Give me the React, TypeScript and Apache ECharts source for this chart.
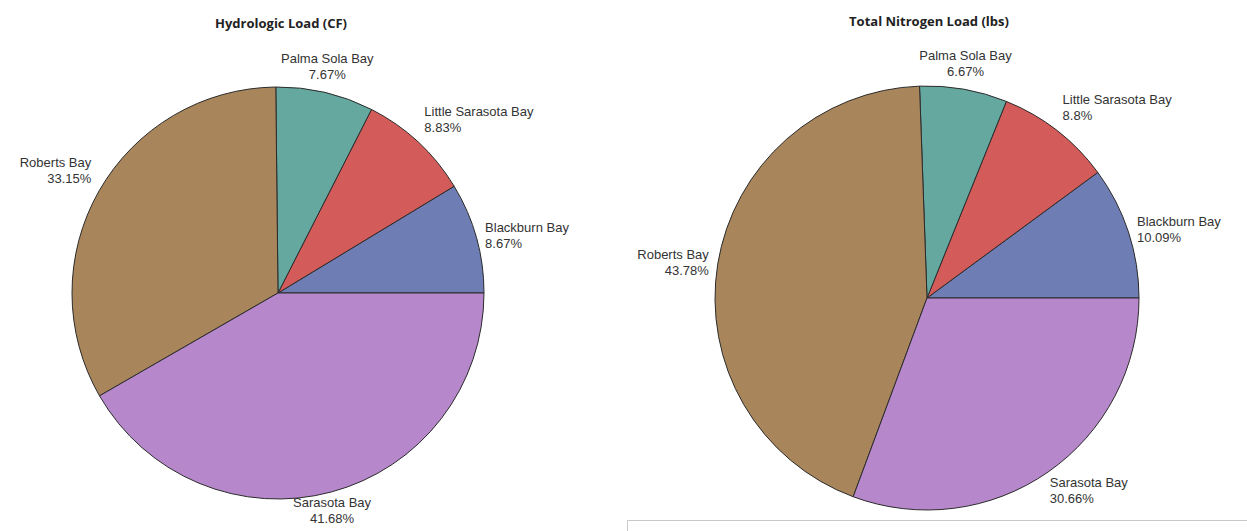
import React, { useEffect, useRef } from "react";
import * as echarts from "echarts";

const categories = ["Blackburn Bay", "Little Sarasota Bay", "Palma Sola Bay", "Roberts Bay", "Sarasota Bay"];
const hydrologicPct = [8.67, 8.83, 7.67, 33.15, 41.68];
const nitrogenPct = [10.09, 8.8, 6.67, 43.78, 30.66];
const titles = ["Hydrologic Load (CF)", "Total Nitrogen Load (lbs)"];
const colors = ["#6e7eb4", "#d35b5a", "#65a8a0", "#a8855a", "#b688cb"];

const pies = [
  { values: hydrologicPct, center: [278, 293], radius: 206, titleX: 276, titleY: 18 },
  { values: nitrogenPct, center: [927, 298], radius: 212, titleX: 924, titleY: 16 },
];

export default function App() {
  const ref = useRef<HTMLDivElement>(null);
  useEffect(() => {
    if (!ref.current) return;
    const chart = echarts.init(ref.current, undefined, { renderer: "svg" });

    const makeLayout = (pieIdx: number) => (params: any) => {
      const p = pies[pieIdx];
      const vals = p.values;
      const total = vals.reduce((a, b) => a + b, 0);
      let cum = 0;
      for (let i = 0; i < params.dataIndex; i++) cum += vals[i];
      const mid = ((cum + vals[params.dataIndex] / 2) / total) * Math.PI * 2;
      const c = Math.cos(mid);
      const s = Math.sin(mid);
      const align = c > 0.3 ? "left" : c < -0.3 ? "right" : "center";
      const verticalAlign = s > 0.4 ? "bottom" : s < -0.4 ? "top" : "middle";
      const gap = verticalAlign === "top" ? 3 : align === "center" ? 10 : 9;
      const r = p.radius + gap;
      const x = p.center[0] + r * c;
      const y = p.center[1] - r * s;
      return { x, y, align, verticalAlign };
    };

    const series = pies.map((p, pi) => ({
      type: "pie",
      center: p.center,
      radius: p.radius,
      startAngle: 0,
      clockwise: false,
      avoidLabelOverlap: false,
      silent: true,
      itemStyle: { borderColor: "#2b2b2b", borderWidth: 1 },
      label: {
        show: true,
        position: "outside",
        formatter: (prm: any) => `${prm.name}\n${prm.value}%`,
        fontFamily: "Liberation Sans, Arial, sans-serif",
        fontSize: 13,
        lineHeight: 16,
        color: "#333333",
      },
      labelLine: { show: false, length: 0, length2: 0 },
      labelLayout: makeLayout(pi),
      data: categories.map((name, i) => ({
        name,
        value: p.values[i],
        itemStyle: { color: colors[i] },
      })),
    }));

    chart.setOption({
      animation: false,
      backgroundColor: "#ffffff",
      title: pies.map((p, i) => ({
        text: titles[i],
        left: p.titleX,
        top: p.titleY,
        textAlign: "center",
        textVerticalAlign: "middle",
        textStyle: {
          fontFamily: "Open Sans, sans-serif",
          fontWeight: "bold",
          fontSize: 13,
          color: "#222222",
        },
      })),
      graphic: [
        {
          type: "rect",
          shape: { x: 627.5, y: 520.5, width: 640, height: 40 },
          style: { fill: "#ffffff", stroke: "#c8c8c8", lineWidth: 1 },
          silent: true,
        },
      ],
      series,
    } as any);

    return () => chart.dispose();
  }, []);

  return (
    <div
      ref={ref}
      style={{ position: "absolute", left: 0, top: 0, width: 1247, height: 531 }}
    />
  );
}
